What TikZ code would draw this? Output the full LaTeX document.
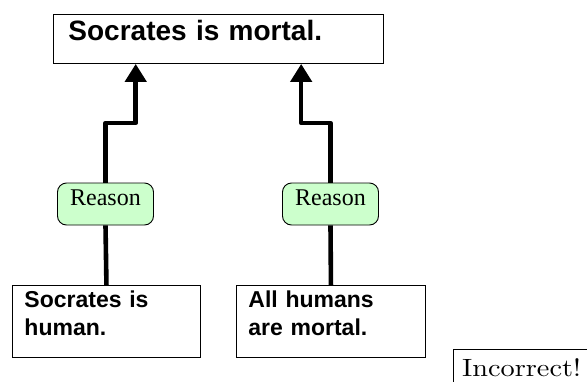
\documentclass[tikz,border=0pt]{standalone}
\usepackage{fontspec}
\usepackage{graphicx}
\newfontfamily\arialfont{Liberation Sans}
\newfontfamily\timesfont{Liberation Serif}
\usetikzlibrary{arrows.meta,calc}
\definecolor{reasongreen}{HTML}{CCFFCC}
\tikzset{
  claimbox/.style={draw=black, line width=0.9pt, rectangle, align=left, inner ysep=0pt, anchor=north west},
  reasonbox/.style={draw=black, line width=0.9pt, fill=reasongreen, rounded corners=9pt,
    minimum width=96pt, minimum height=42pt, inner sep=0pt, text height=16pt, text depth=13pt,
    font=\timesfont\fontsize{24}{26}\selectfont},
  conn/.style={line width=4.6pt, line join=round},
  arr/.style={conn, -{Triangle[length=18pt,width=21pt]}}
}
\begin{document}
\begin{tikzpicture}[x=1pt,y=-1pt]
\clip (0,0) rectangle (587,381);
\fill[white] (0,0) rectangle (587,381);
% top claim
\node[claimbox, text width=300pt, inner xsep=15pt, text height=26pt, text depth=23pt,
  font=\arialfont\bfseries\fontsize{28}{32}\selectfont] (top) at (53,14) {Socrates is mortal.};
% premises
\node[claimbox, text width=164pt, inner xsep=12pt, text height=22pt, text depth=50pt,
  font=\arialfont\bfseries\fontsize{23}{28}\selectfont] (b1) at (12,285) {Socrates is\\human.};
\node[claimbox, text width=165pt, inner xsep=12pt, text height=22pt, text depth=50pt,
  font=\arialfont\bfseries\fontsize{23}{28}\selectfont] (b2) at (236,285) {All humans\\are mortal.};
% reasons
\node[reasonbox] (r1) at (105.5,204) {Reason};
\node[reasonbox] (r2) at (330.5,204) {Reason};
% targets on top box
\coordinate (t1) at ($(top.south west)!0.25!(top.south east)$);
\coordinate (t2) at ($(top.south west)!0.75!(top.south east)$);
% connectors
\draw[conn] (b1.north) -- (r1.south);
\draw[conn] (b2.north) -- (r2.south);
\draw[arr] (r1.north) -- (r1.north |- 0,123) -- (t1 |- 0,123) -- (t1);
\draw[arr] (r2.north) -- (r2.north |- 0,123) -- (t2 |- 0,123) -- (t2);
% verdict
\node[draw=black, line width=0.8pt, anchor=north west, inner xsep=9pt, inner ysep=9pt,
  font=\fontsize{10}{12}\selectfont] (verdict) at (452.7,349) {\scalebox{2.83}[2.5]{Incorrect!}};
\end{tikzpicture}
\end{document}
